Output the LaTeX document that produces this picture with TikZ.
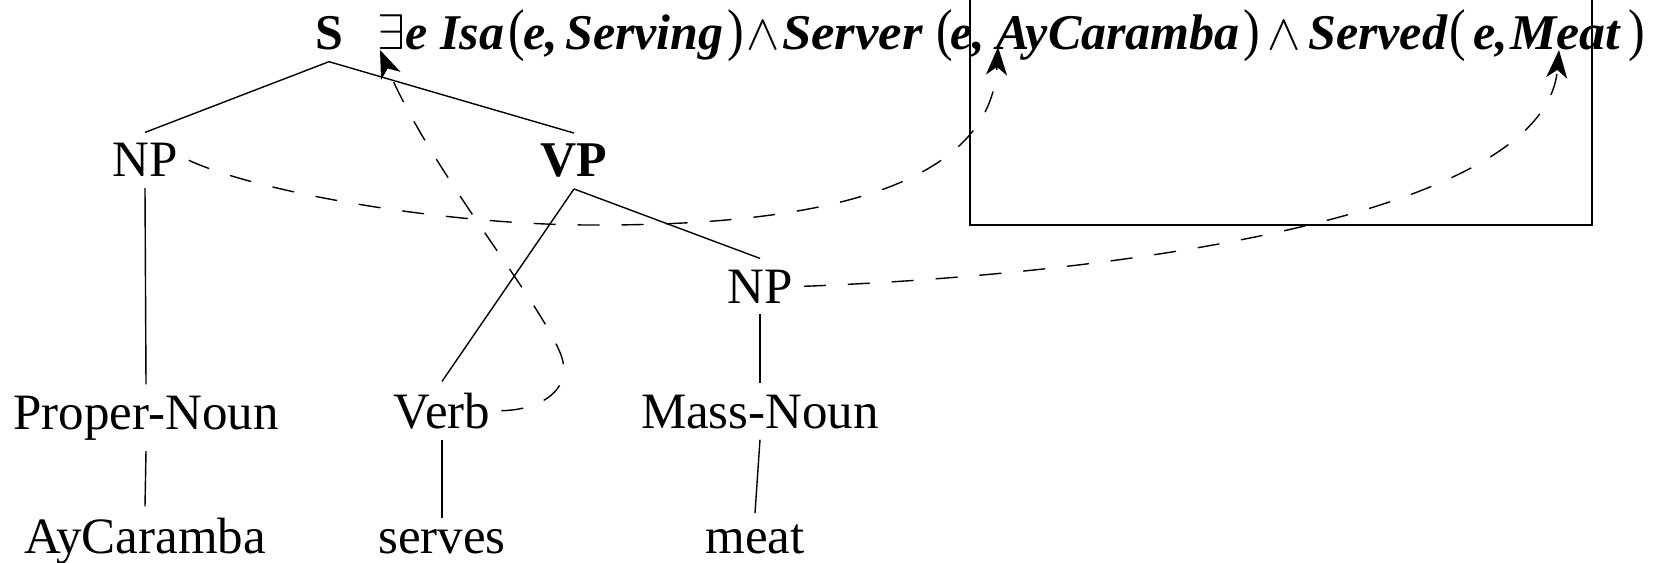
\documentclass[tikz,border=0pt]{standalone}
\usepackage{fix-cm}
\usepackage{fontspec}
\setmainfont{Liberation Serif}
\usetikzlibrary{arrows.meta,calc}

% tall thin parentheses for the logical form
\newcommand{\fLpar}{\makebox[11bp][l]{\scalebox{1}[1.15]{(}}}
\newcommand{\fRpar}{\makebox[11bp][l]{\scalebox{1}[1.15]{)}}}

\begin{document}
\begin{tikzpicture}[x=1bp,y=-1bp,
  lbl/.style={font=\fontsize{51bp}{60bp}\selectfont, inner sep=11bp, anchor=base},
  blbl/.style={lbl, font=\fontsize{50bp}{60bp}\selectfont\bfseries},
  fx/.style={font=\fontsize{50bp}{60bp}\selectfont\bfseries\itshape, inner sep=0pt, anchor=base west},
  fsym/.style={font=\fontsize{50bp}{60bp}\selectfont, inner sep=0pt, anchor=base west},
  branch/.style={line width=1.4bp},
  link/.style={line width=1.4bp, dash pattern=on 22bp off 22bp,
    -{Stealth[length=28bp,width=21bp,inset=8bp]}},
]
\useasboundingbox (0,0) rectangle (1653,563);

% parse tree labels
\node[blbl] (S)      at (329,50)  {S};
\node[lbl]  (NPa)    at (145,177) {NP};
\node[blbl] (VP)     at (574,177) {VP};
\node[lbl]  (NPb)    at (760,303) {NP};
\node[lbl]  (PN)     at (146,429) {Proper-Noun};
\node[lbl]  (Verb)   at (442,428) {Verb};
\node[lbl]  (MN)     at (760,428) {Mass-Noun};
\node[lbl]  (Ay)     at (145,553) {AyCaramba};
\node[lbl]  (serves) at (442,553) {serves};
\node[lbl]  (meat)   at (755,553) {meat};

% tree branches
\draw[branch] (S.south)    -- (NPa.north);
\draw[branch] (S.south)    -- (VP.north);
\draw[branch] (NPa.south)  -- (PN.north);
\draw[branch] (PN.south)   -- (Ay.north);
\draw[branch] (VP.south)   -- (Verb.north);
\draw[branch] (VP.south)   -- (NPb.north);
\draw[branch] (Verb.south) -- (serves.north);
\draw[branch] (NPb.south)  -- (MN.north);
\draw[branch] (MN.south)   -- (meat.north);

% logical form, one word at a time
\node[fsym] (fEx)      at (377,50)  {$\exists$};
\node[fx]   (fE1)      at (405,50)  {e};
\node[fx]   (fIsa)     at (440,50)  {Isa};
\node[fsym] (fP1)      at (508,50)  {\fLpar};
\node[fx]   (fE2)      at (523,50)  {e,};
\node[fx]   (fServing) at (565,50)  {Serving};
\node[fsym] (fP2)      at (727,50)  {\fRpar};
\node[fsym] (fAnd1)    at (746,50)  {$\wedge$};
\node[fx]   (fServer)  at (782,50)  {\scalebox{1.055}[1]{Server}};
\node[fsym] (fP3)      at (936,50)  {\fLpar};
\node[fx]   (fE3)      at (950,50)  {e,};
\node[fx]   (fAy)      at (996,50)  {AyCaramba};
\node[fsym] (fP4)      at (1243,50) {\fRpar};
\node[fsym] (fAnd2)    at (1267,50) {$\wedge$};
\node[fx]   (fServed)  at (1308,50) {Served};
\node[fsym] (fP5)      at (1449,50) {\fLpar};
\node[fx]   (fE4)      at (1473,50) {e,};
\node[fx]   (fMeat)    at (1510,50) {\scalebox{1.04}[1]{Meat}};
\node[fsym] (fP6)      at (1628,50) {\fRpar};

% open frame around the arguments
\draw[line width=1.6bp] (970,0) -- (970,225) -- (1592,225) -- (1592,0);

% semantic attachments
\coordinate (tEx)   at ($(fEx.base west)+(3,0)$);
\coordinate (tAy)   at ($(fAy.base west)+(2,-3)$);
\coordinate (tMeat) at ($(fMeat.base west)+(49,0)$);

\draw[link] (Verb.east) .. controls (540,410) and (574,390) .. (561,355)
  .. controls (540,300) and (430,170) .. (tEx);
\draw[link] (NPa.east) .. controls (260,193) and (450,226) .. (600,225)
  .. controls (780,225) and (990,200) .. (tAy);
\draw[link] (NPb.east) .. controls (1100,275) and (1545,220) .. (tMeat);
\end{tikzpicture}
\end{document}
